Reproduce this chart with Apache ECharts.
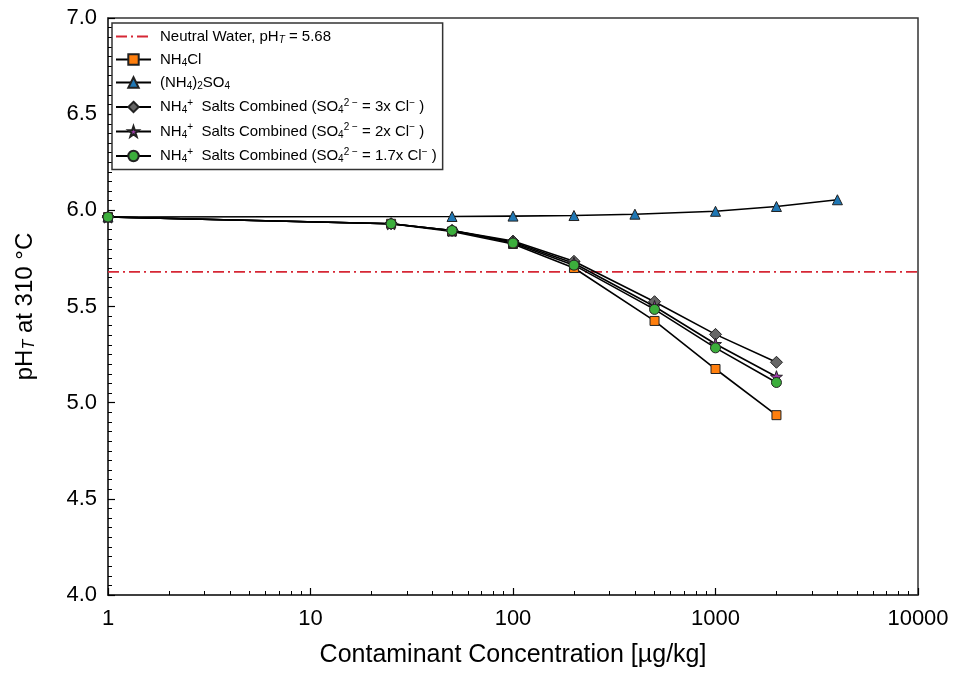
<!DOCTYPE html>
<html>
<head>
<meta charset="utf-8">
<script src="https://cdn.jsdelivr.net/npm/echarts@6/dist/echarts.min.js"></script>
<style>html,body{margin:0;padding:0;background:#fff}#c{width:958px;height:679px}</style>
</head>
<body>
<div id="c"></div>
<script>
// ---- data ----
const xSalt = [1, 25, 50, 100, 200, 500, 1000, 2000];
const xSulfate = [1, 50, 100, 200, 400, 1000, 2000, 4000];
const yNH4Cl = [5.965, 5.93, 5.89, 5.825, 5.70, 5.425, 5.175, 4.935];
const ySulfate = [5.965, 5.968, 5.970, 5.973, 5.980, 5.995, 6.02, 6.055];
const yComb3x = [5.965, 5.93, 5.895, 5.84, 5.735, 5.525, 5.355, 5.21];
const yComb2x = [5.965, 5.93, 5.895, 5.835, 5.725, 5.50, 5.305, 5.135];
const yComb17x = [5.965, 5.93, 5.895, 5.83, 5.715, 5.485, 5.285, 5.105];
const neutralPH = 5.68;
const xRange = [1, 10000];
const xMinorTicks = [2,3,4,5,6,7,8,9,20,30,40,50,60,70,80,90,200,300,400,500,600,700,800,900,2000,3000,4000,5000,6000,7000,8000,9000];
const names = ['Neutral Water', 'NH4Cl', '(NH4)2SO4', 'Comb3x', 'Comb2x', 'Comb17x'];
const legendRich = {
  'Neutral Water': 'Neutral Water, pH{subi|T} = 5.68',
  'NH4Cl': 'NH{sub|4}Cl',
  '(NH4)2SO4': '(NH{sub|4}){sub|2}SO{sub|4}',
  'Comb3x': 'NH{sub|4}{sup|+}  Salts Combined (SO{sub|4}{sup|2 −} = 3x Cl{sup|−} )',
  'Comb2x': 'NH{sub|4}{sup|+}  Salts Combined (SO{sub|4}{sup|2 −} = 2x Cl{sup|−} )',
  'Comb17x': 'NH{sub|4}{sup|+}  Salts Combined (SO{sub|4}{sup|2 −} = 1.7x Cl{sup|−} )'
};

const FONT = '"Liberation Sans", Arial, sans-serif';
const pair = (xs, ys) => xs.map((x, i) => [x, ys[i]]);
const star = 'path://M0,-10 L2.35,-3.24 L9.51,-3.09 L3.8,1.24 L5.88,8.09 L0,4 L-5.88,8.09 L-3.8,1.24 L-9.51,-3.09 L-2.35,-3.24 Z';

function lineSeries(name, data, symbol, color, size) {
  return {
    name: name, type: 'line', data: data, symbol: symbol, symbolSize: size,
    lineStyle: {color: '#000', width: 1.6},
    itemStyle: {color: color, borderColor: '#222', borderWidth: 1},
    clip: false, z: 3
  };
}

const chart = echarts.init(document.getElementById('c'));
chart.setOption({
  animation: false,
  backgroundColor: '#fff',
  grid: {left: 108, right: 40, top: 18, bottom: 84, show: true, borderColor: '#333', borderWidth: 1.5, backgroundColor: 'transparent'},
  legend: {
    orient: 'vertical', left: 112, top: 23,
    data: [{name: 'Neutral Water', itemStyle: {opacity: 0}}].concat(names.slice(1)),
    itemWidth: 35, itemHeight: 13, itemGap: 7,
    padding: [6, 6, 5, 3],
    backgroundColor: '#fff', borderColor: '#333', borderWidth: 1.5, borderRadius: 0,
    formatter: n => legendRich[n],
    textStyle: {
      fontFamily: FONT, fontSize: 15, color: '#000', padding: [0, 0, 0, 4],
      rich: {
        sub: {fontFamily: FONT, fontSize: 10, color: '#000', padding: [7, 0, 0, 0]},
        subi: {fontFamily: FONT, fontSize: 10, fontStyle: 'italic', color: '#000', padding: [7, 0, 0, 0]},
        sup: {fontFamily: FONT, fontSize: 10, color: '#000', padding: [0, 0, 8, 0]}
      }
    }
  },
  xAxis: [{
    type: 'log', logBase: 10, min: xRange[0], max: xRange[1],
    name: 'Contaminant Concentration [µg/kg]', nameLocation: 'middle', nameGap: 48,
    nameTextStyle: {fontFamily: FONT, fontSize: 25, color: '#000'},
    axisLine: {show: true, lineStyle: {color: '#333', width: 1.5}},
    axisTick: {show: true, inside: true, length: 7, lineStyle: {color: '#000', width: 1.2}},
    axisLabel: {fontFamily: FONT, fontSize: 22, color: '#000', margin: 13, formatter: v => String(Math.round(v))},
    splitLine: {show: false}
  }, {
    type: 'log', logBase: 10, min: xRange[0], max: xRange[1], position: 'bottom',
    axisLine: {show: false}, axisLabel: {show: false}, splitLine: {show: false},
    axisTick: {show: true, inside: true, length: 4, customValues: xMinorTicks, lineStyle: {color: '#000', width: 1}}
  }],
  yAxis: {
    type: 'value', min: 4, max: 7, interval: 0.5,
    name: 'pH{subi|T} at 310 °C', nameLocation: 'middle', nameGap: 70, nameRotate: 90,
    nameTextStyle: {fontFamily: FONT, fontSize: 24, color: '#000',
      rich: {subi: {fontFamily: FONT, fontSize: 16, fontStyle: 'italic', color: '#000', padding: [10, 0, 0, 0]}}},
    axisLine: {show: true, lineStyle: {color: '#333', width: 1.5}},
    axisTick: {show: true, inside: true, length: 7, lineStyle: {color: '#000', width: 1.2}},
    minorTick: {show: true, splitNumber: 10, length: 4, lineStyle: {color: '#000', width: 1}},
    axisLabel: {fontFamily: FONT, fontSize: 22, color: '#000', margin: 11, formatter: v => v.toFixed(1)},
    splitLine: {show: false}
  },
  series: [
    {
      name: 'Neutral Water', type: 'line', data: [[xRange[0], neutralPH], [xRange[1], neutralPH]],
      symbol: 'none', lineStyle: {color: '#d62735', width: 1.6, type: [11, 4, 2, 4]},
      itemStyle: {color: '#d62735'}, z: 2
    },
    lineSeries('NH4Cl', pair(xSalt, yNH4Cl), 'rect', '#ff7f0e', 9),
    lineSeries('(NH4)2SO4', pair(xSulfate, ySulfate), 'triangle', '#1f77b4', 10),
    lineSeries('Comb3x', pair(xSalt, yComb3x), 'diamond', '#666666', 12),
    lineSeries('Comb2x', pair(xSalt, yComb2x), star, '#9c3aa8', 12),
    lineSeries('Comb17x', pair(xSalt, yComb17x), 'circle', '#3cae3c', 10)
  ]
});
</script>
</body>
</html>
